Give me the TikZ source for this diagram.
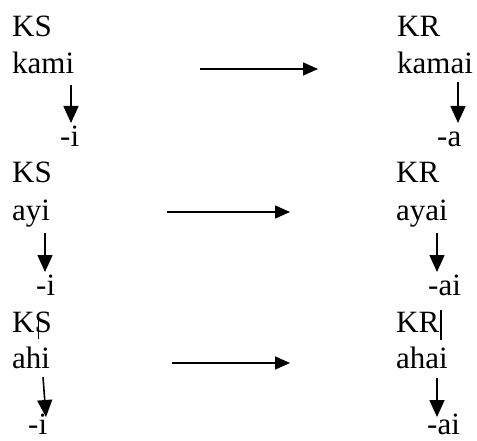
\documentclass[tikz,border=0pt]{standalone}
\usepackage{fontspec}
\setmainfont{Liberation Serif}
\usetikzlibrary{arrows.meta}
\begin{document}
\begin{tikzpicture}[x=1pt,y=-1pt,
  word/.style={anchor=base west,inner sep=0pt,font=\fontsize{31}{37}\selectfont},
  vlink/.style={line width=1.6pt,-{Triangle[length=17pt,width=15pt]}},
  hlink/.style={line width=1.6pt,-{Triangle[length=15pt,width=13pt]}},
  tick/.style={line width=1.2pt}]
\useasboundingbox (0,0) rectangle (477,441);

% first pair: kami -> kamai
\node[word] (ks1) at (12,37) {KS};
\node[word] (w1) at (12,74) {kami};
\node[word] (s1) at (60,147) {-i};
\node[word] (kr1) at (397,37) {KR};
\node[word] (r1) at (397,74) {kamai};
\node[word] (t1) at (437,147) {-a};
\coordinate (a1) at (71,85);  \coordinate (b1) at (71,123);
\coordinate (c1) at (458,82); \coordinate (e1) at (458,123);
\coordinate (h1a) at (200,69); \coordinate (h1b) at (318,69);
\draw[vlink] (a1) -- (b1);
\draw[vlink] (c1) -- (e1);
\draw[hlink] (h1a) -- (h1b);

% second pair: ayi -> ayai
\node[word] (ks2) at (12,183) {KS};
\node[word] (w2) at (12,221) {ayi};
\node[word] (s2) at (36,295) {-i};
\node[word] (kr2) at (396,183) {KR};
\node[word] (r2) at (396,221) {ayai};
\node[word] (t2) at (428,295) {-ai};
\coordinate (a2) at (45,233);  \coordinate (b2) at (45,272);
\coordinate (c2) at (437,233); \coordinate (e2) at (437,272);
\coordinate (h2a) at (167,212); \coordinate (h2b) at (290,212);
\draw[vlink] (a2) -- (b2);
\draw[vlink] (c2) -- (e2);
\draw[hlink] (h2a) -- (h2b);

% third pair: ahi -> ahai
\node[word] (ks3) at (12,332) {KS};
\node[word] (w3) at (12,368) {ahi};
\node[word] (s3) at (28,434) {-i};
\node[word] (kr3) at (396,332) {KR};
\node[word] (r3) at (396,368) {ahai};
\node[word] (t3) at (427,434) {-ai};
\coordinate (a3) at (43,377);  \coordinate (b3) at (46,417);
\coordinate (c3) at (437,378); \coordinate (e3) at (437,417);
\coordinate (h3a) at (172,363); \coordinate (h3b) at (290,363);
\draw[vlink] (a3) -- (b3);
\draw[vlink] (c3) -- (e3);
\draw[hlink] (h3a) -- (h3b);

% short vertical strokes beside the labels
\coordinate (p1) at (38.5,318); \coordinate (p2) at (38.5,339);
\coordinate (q1) at (441,310);  \coordinate (q2) at (441,340);
\draw[tick] (p1) -- (p2);
\draw[tick] (q1) -- (q2);
\end{tikzpicture}
\end{document}
